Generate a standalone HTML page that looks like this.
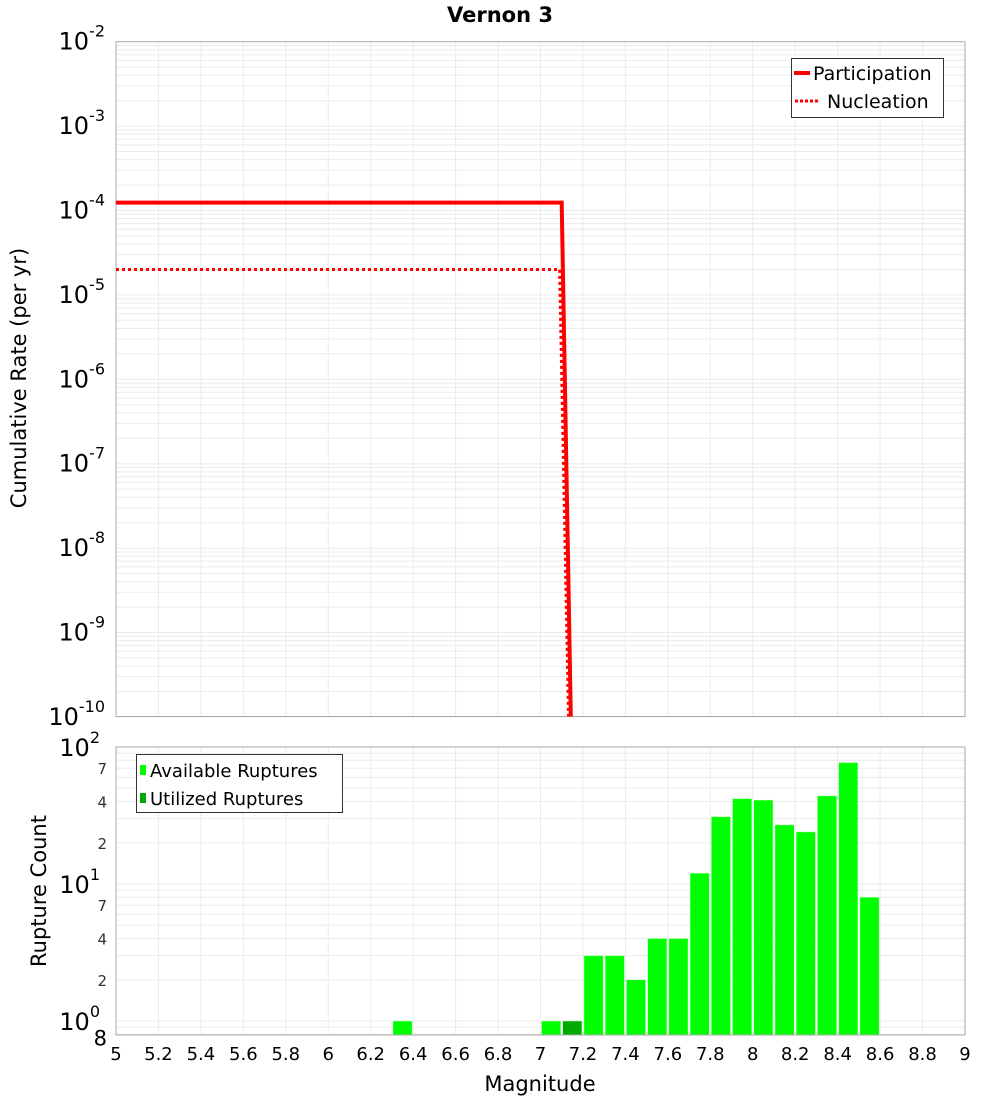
<!DOCTYPE html>
<html><head><meta charset="utf-8">
<style>
body{margin:0;background:#fff;}
svg{display:block;font-family:"DejaVu Sans","Liberation Sans",sans-serif;}
</style></head>
<body>
<svg id="chart" width="1000" height="1100" viewBox="0 0 1000 1100" xmlns="http://www.w3.org/2000/svg">
<text x="500" y="22" text-anchor="middle" font-size="21" font-weight="bold">Vernon 3</text>
<g id="topPlot"></g>
<g id="botPlot"></g>
<text transform="translate(26,378) rotate(-90)" text-anchor="middle" font-size="21">Cumulative Rate (per yr)</text>
<text transform="translate(46,891) rotate(-90)" text-anchor="middle" font-size="21">Rupture Count</text>
<text x="540" y="1091" text-anchor="middle" font-size="21">Magnitude</text>
</svg>
<script>
// data
const partMags = [5.0, 7.1, 7.15];
const partRates = [1.24e-4, 1.24e-4, 1e-11];
const nuclMags = [5.0, 7.09, 7.14];
const nuclRates = [2.0e-5, 2.0e-5, 1e-11];
const barMags = [6.35, 7.05, 7.15, 7.25, 7.35, 7.45, 7.55, 7.65, 7.75, 7.85, 7.95, 8.05, 8.15, 8.25, 8.35, 8.45, 8.55];
const barCounts = [1, 1, 1, 3, 3, 2, 4, 4, 12, 31, 42, 41, 27, 24, 44, 77, 8];
const usedMags = [7.15];
const usedCounts = [1];
const xTicks = ["5","5.2","5.4","5.6","5.8","6","6.2","6.4","6.6","6.8","7","7.2","7.4","7.6","7.8","8","8.2","8.4","8.6","8.8","9"];

const NS = "http://www.w3.org/2000/svg";
function mk(parent, tag, attrs, txt){
  const e = document.createElementNS(NS, tag);
  for (const k in attrs) e.setAttribute(k, attrs[k]);
  if (txt !== undefined) e.textContent = txt;
  parent.appendChild(e); return e;
}
const X0=116, X1=965;
const xS = m => X0 + (m-5)/4*(X1-X0);
const TY0=41.7, TPD=84.4, TBOT=716.5;
const yTop = v => TY0 + (-2 - Math.log10(v))*TPD;
const BY2=747, BPD=137, BBOT=1035;
const yBot = v => BY2 + (2 - Math.log10(v))*BPD;

const topG = document.getElementById('topPlot');
const botG = document.getElementById('botPlot');
const svgEl = document.getElementById('chart');

const defs = mk(svgEl,'defs',{});
const cp = mk(defs,'clipPath',{id:'clipTop'});
mk(cp,'rect',{x:X0,y:TY0,width:X1-X0,height:TBOT-TY0});

for (let d=-10; d<-2; d++){
  for (let k=1;k<10;k++){
    const yy = yTop(k*Math.pow(10,d));
    const g = mk(topG,'line',{x1:X0,x2:X1,y1:yy,y2:yy,stroke:'#ebebeb','stroke-width':1});
    
    
  }
}
for (let i=1;i<20;i++){
  const xx = xS(5+i*0.2);
  const g = mk(topG,'line',{x1:xx,x2:xx,y1:TY0,y2:TBOT,stroke:'#ebebeb','stroke-width':1});
  
  
}
const tf = mk(topG,'rect',{x:X0,y:TY0,width:X1-X0,height:TBOT-TY0,fill:'none',stroke:'#aaa','stroke-width':1});


for (let d=-2; d>=-10; d--){
  const yy = yTop(Math.pow(10,d));
  const t = mk(topG,'text',{x:105,y:yy+8,'text-anchor':'end','font-size':24});
  
  
  mk(t,'tspan',{},'10');
  mk(t,'tspan',{dy:-13,'font-size':16},String(d));
}
const pts = (ms,rs)=>ms.map((m,i)=>xS(m).toFixed(1)+','+yTop(rs[i]).toFixed(1)).join(' ');
const pl = mk(topG,'polyline',{points:pts(partMags,partRates),fill:'none',stroke:'#ff0000','stroke-width':4,'clip-path':'url(#clipTop)'});


const nl = mk(topG,'polyline',{points:pts(nuclMags,nuclRates),fill:'none',stroke:'#ff0000','stroke-width':3,'stroke-dasharray':'3,3','clip-path':'url(#clipTop)'});


const lg = mk(topG,'g',{});


mk(lg,'rect',{x:791.5,y:58.5,width:152,height:59,fill:'#fff',stroke:'#333','stroke-width':1});
mk(lg,'line',{x1:794,x2:810,y1:73,y2:73,stroke:'#ff0000','stroke-width':4});
mk(lg,'text',{x:813,y:80,'font-size':19},'Participation');
mk(lg,'line',{x1:795,x2:820,y1:101,y2:101,stroke:'#ff0000','stroke-width':3,'stroke-dasharray':'3,2'});
mk(lg,'text',{x:827,y:108,'font-size':19},'Nucleation');

for (let d=-1; d<2; d++){
  for (let k=1;k<10;k++){
    const v = k*Math.pow(10,d);
    const yy = yBot(v);
    if (yy>BBOT || yy<BY2) continue;
    const g = mk(botG,'line',{x1:X0,x2:X1,y1:yy,y2:yy,stroke:'#ebebeb','stroke-width':1});
    
    
  }
}
for (let i=1;i<20;i++){
  const xx = xS(5+i*0.2);
  const g = mk(botG,'line',{x1:xx,x2:xx,y1:BY2,y2:BBOT,stroke:'#ebebeb','stroke-width':1});
  
  
}
const bw = (X1-X0)/40;
barMags.forEach((m,i)=>{
  const yy = yBot(barCounts[i]);
  const r = mk(botG,'rect',{x:xS(m)-bw/2+1,y:yy,width:bw-2,height:BBOT-yy,fill:'#00ff00',stroke:'#c8ffc8','stroke-width':0.5});
  
  
});
usedMags.forEach((m,i)=>{
  const yy = yBot(usedCounts[i]);
  const r = mk(botG,'rect',{x:xS(m)-bw/2+1,y:yy,width:bw-2,height:BBOT-yy,fill:'#00aa00',stroke:'#c8ffc8','stroke-width':0.5});
  
  
});
const bf = mk(botG,'rect',{x:X0,y:BY2,width:X1-X0,height:BBOT-BY2,fill:'none',stroke:'#aaa','stroke-width':1});


[[2,BY2],[1,yBot(10)],[0,yBot(1)]].forEach(([d,yy])=>{
  const t = mk(botG,'text',{x:100,y:yy+9,'text-anchor':'end','font-size':24});
  
  
  mk(t,'tspan',{},'10');
  mk(t,'tspan',{dy:-13,'font-size':16},String(d));
});
[[7,70],[4,40],[2,20],[7,7],[4,4],[2,2],[8,0.8]].forEach(([lab,v])=>{
  const t = mk(botG,'text',{x:107,y:yBot(v)+6,'text-anchor':'end','font-size':15,fill:'#333'},String(lab));
  if (v===0.8) { t.setAttribute('font-size','21'); t.setAttribute('fill','#000'); t.setAttribute('y', yBot(v)+11); }
  
  
});
xTicks.forEach(s=>{
  const t = mk(botG,'text',{x:xS(parseFloat(s)),y:1060,'text-anchor':'middle','font-size':18},s);
  
  
});
const bl = mk(botG,'g',{});


mk(bl,'rect',{x:136.5,y:754.5,width:206,height:58,fill:'#fff',stroke:'#333','stroke-width':1});
mk(bl,'rect',{x:140,y:765,width:6,height:10,fill:'#00ff00'});
mk(bl,'text',{x:150,y:777,'font-size':18},'Available Ruptures');
mk(bl,'rect',{x:140,y:793,width:6,height:10,fill:'#00aa00'});
mk(bl,'text',{x:150,y:805,'font-size':18},'Utilized Ruptures');
</script>
</body></html>
